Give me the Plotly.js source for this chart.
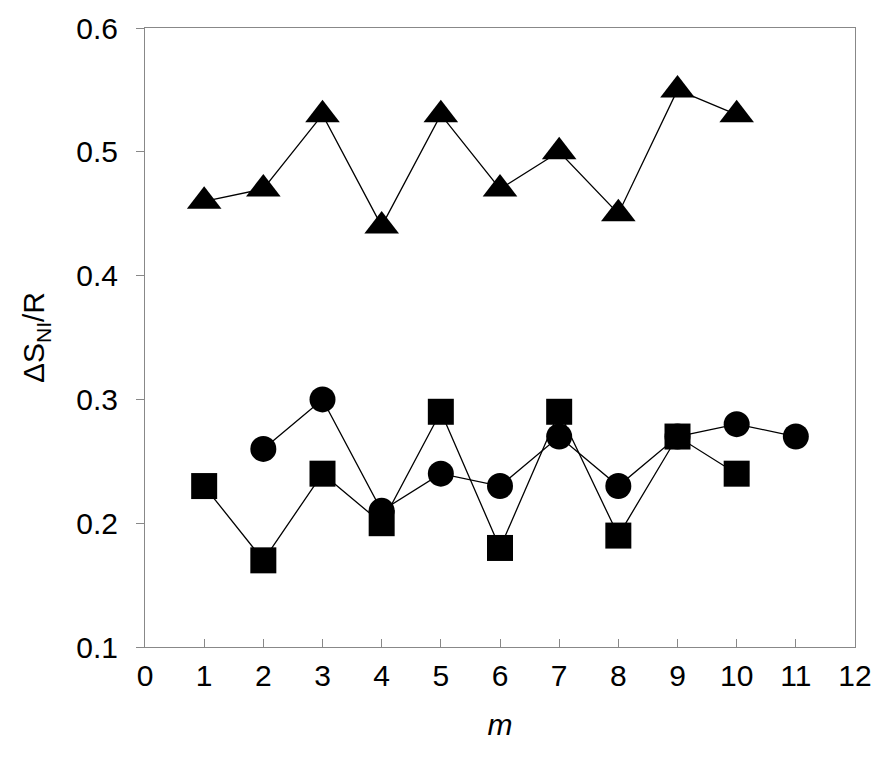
<!DOCTYPE html>
<html>
<head>
<script src="https://cdn.plot.ly/plotly-3.0.1.min.js"></script>
<style>body{margin:0}</style>
</head>
<body>
<div id="plot" style="width:878px;height:764px"></div>
<script>
const xTri = [1, 2, 3, 4, 5, 6, 7, 8, 9, 10];
const yTri = [0.46, 0.47, 0.53, 0.44, 0.53, 0.47, 0.50, 0.45, 0.55, 0.53];
const xCirc = [2, 3, 4, 5, 6, 7, 8, 9, 10, 11];
const yCirc = [0.26, 0.30, 0.21, 0.24, 0.23, 0.27, 0.23, 0.27, 0.28, 0.27];
const xSq = [1, 2, 3, 4, 5, 6, 7, 8, 9, 10];
const ySq = [0.23, 0.17, 0.24, 0.20, 0.29, 0.18, 0.29, 0.19, 0.27, 0.24];

const mk = (x, y, symbol, size) => ({
  x, y, mode: "lines+markers", type: "scatter",
  line: { color: "black", width: 1.3 },
  marker: { symbol, size, color: "black" },
});

const fam = "Liberation Sans";
const f = () => ({ family: fam, size: 30, color: "black" });

Plotly.newPlot("plot", [
  mk(xTri, yTri, "triangle-up", 30),
  mk(xCirc, yCirc, "circle", 26),
  mk(xSq, ySq, "square", 26),
], {
  width: 878, height: 764,
  margin: { l: 145, r: 23, t: 28, b: 117 },
  showlegend: false,
  paper_bgcolor: "white", plot_bgcolor: "white",
  font: f(),
  xaxis: {
    range: [0, 12], dtick: 1, showgrid: false, zeroline: false,
    showline: true, linecolor: "#888", mirror: true,
    ticks: "inside", ticklen: 8, tickcolor: "#888",
    tickfont: f(), ticklabelstandoff: 2,
    title: { text: "<i>m</i>", font: f(), standoff: 22 },
  },
  yaxis: {
    range: [0.1, 0.6], dtick: 0.1, tickformat: ".1f", showgrid: false, zeroline: false,
    showline: true, linecolor: "#888", mirror: true,
    ticks: "outside", ticklen: 8, tickcolor: "#888",
    tickfont: f(), ticklabelstandoff: 12,
    title: { text: "ΔS<sub>NI</sub>/R", font: f(), standoff: 22 },
  },
}, { displayModeBar: false });
</script>
</body>
</html>
